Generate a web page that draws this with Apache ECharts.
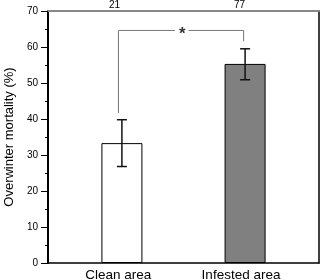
<!DOCTYPE html>
<html>
<head>
<meta charset="utf-8">
<script src="https://cdn.jsdelivr.net/npm/echarts@6/dist/echarts.min.js"></script>
<style>
  html, body { margin: 0; padding: 0; background: #fff; }
  #chartdiv { width: 320px; height: 280px; }
</style>
</head>
<body>
<div id="chartdiv"></div>
<script>
// data
const categories = ['Clean area', 'Infested area'];
const catPos = [1, 2];
const labelPos = [0.97, 1.967];
const means = [33.3, 55.3];
const errLow = [26.8, 50.9];
const errHigh = [39.8, 59.5];
const sampleSizes = ['21', '77'];
const sampleLabelPos = [0.94, 1.955];
const yTicks = [0, 10, 20, 30, 40, 50, 60, 70];
// significance bracket
const bracketLeft = [[0.972, 41.6], [0.972, 64.6], [1.43, 64.6]];
const bracketRight = [[1.54, 64.6], [1.988, 64.6], [1.988, 61.6]];
const starPos = [1.49, 64.6];

var dom = document.getElementById('chartdiv');
var myChart = echarts.init(dom, null, { renderer: 'canvas' });

var barColors = ['#ffffff', '#808080'];
var font = 'Liberation Sans, Arial, sans-serif';

var option = {
  animation: false,
  grid: { left: 48, right: 1, top: 11, bottom: 17, containLabel: false, outerBoundsMode: 'none' },
  xAxis: [
    {
      type: 'value',
      min: 0.4,
      max: 2.6,
      position: 'bottom',
      splitLine: { show: false },
      axisLine: { onZero: false, lineStyle: { color: '#000', width: 1.5 } },
      axisTick: { show: false },
      axisLabel: {
        customValues: labelPos,
        formatter: v => categories[labelPos.indexOf(v)] || '',
        color: '#000',
        fontSize: 13.5,
        fontFamily: font,
        margin: 5
      }
    },
    {
      type: 'value',
      min: 0.4,
      max: 2.6,
      position: 'top',
      splitLine: { show: false },
      axisLine: { show: true, onZero: false, lineStyle: { color: '#888', width: 2 } },
      axisTick: { show: false },
      axisLabel: {
        customValues: sampleLabelPos,
        formatter: v => sampleSizes[sampleLabelPos.indexOf(v)] || '',
        color: '#000',
        fontSize: 10,
        fontFamily: font,
        margin: 1
      }
    }
  ],
  yAxis: [
    {
      type: 'value',
      min: 0,
      max: 70,
      interval: 10,
      position: 'left',
      name: 'Overwinter mortality (%)',
      nameLocation: 'middle',
      nameGap: 30,
      nameTextStyle: { color: '#000', fontSize: 13, fontFamily: font },
      splitLine: { show: false },
      axisLine: { show: true, onZero: false, lineStyle: { color: '#000', width: 2 } },
      axisTick: { show: true, inside: false, length: 7, lineStyle: { color: '#000', width: 1 } },
      minorTick: { show: true, splitNumber: 2, length: 3, lineStyle: { color: '#000', width: 1 } },
      axisLabel: {
        color: '#000',
        fontSize: 10,
        fontFamily: font,
        margin: 10,
        formatter: v => yTicks.indexOf(v) >= 0 ? String(v) : ''
      }
    },
    {
      type: 'value',
      min: 0,
      max: 70,
      position: 'right',
      splitLine: { show: false },
      axisLine: { show: true, onZero: false, lineStyle: { color: '#000', width: 1.5 } },
      axisTick: { show: false },
      axisLabel: { show: false }
    }
  ],
  series: [
    {
      type: 'bar',
      barWidth: 41,
      data: catPos.map((x, i) => ({
        value: [x, means[i]],
        itemStyle: { color: barColors[i], borderColor: '#000', borderWidth: 1 }
      })),
      z: 2
    },
    {
      type: 'custom',
      data: catPos.map((x, i) => [x, errLow[i], errHigh[i]]),
      renderItem: function (params, api) {
        var lo = api.coord([api.value(0), api.value(1)]);
        var hi = api.coord([api.value(0), api.value(2)]);
        var cap = 5;
        var style = { stroke: '#111', lineWidth: 1.5 };
        return {
          type: 'group',
          children: [
            { type: 'line', shape: { x1: lo[0], y1: lo[1], x2: hi[0], y2: hi[1] }, style: style },
            { type: 'line', shape: { x1: hi[0] - cap, y1: hi[1], x2: hi[0] + cap, y2: hi[1] }, style: style },
            { type: 'line', shape: { x1: lo[0] - cap, y1: lo[1], x2: lo[0] + cap, y2: lo[1] }, style: style }
          ]
        };
      },
      z: 3
    },
    {
      type: 'line',
      data: bracketLeft,
      symbol: 'none',
      lineStyle: { color: '#777', width: 1 },
      z: 3
    },
    {
      type: 'line',
      data: bracketRight,
      symbol: 'none',
      lineStyle: { color: '#777', width: 1 },
      z: 3
    },
    {
      type: 'scatter',
      data: [starPos],
      symbolSize: 0,
      label: {
        show: true,
        position: 'inside',
        formatter: '*',
        color: '#000',
        fontSize: 17,
        fontWeight: 'bold',
        fontFamily: font,
        offset: [0, 4]
      },
      z: 4
    }
  ]
};

if (option && typeof option === 'object') {
  myChart.setOption(option);
}

window.addEventListener('resize', myChart.resize);
</script>
</body>
</html>
